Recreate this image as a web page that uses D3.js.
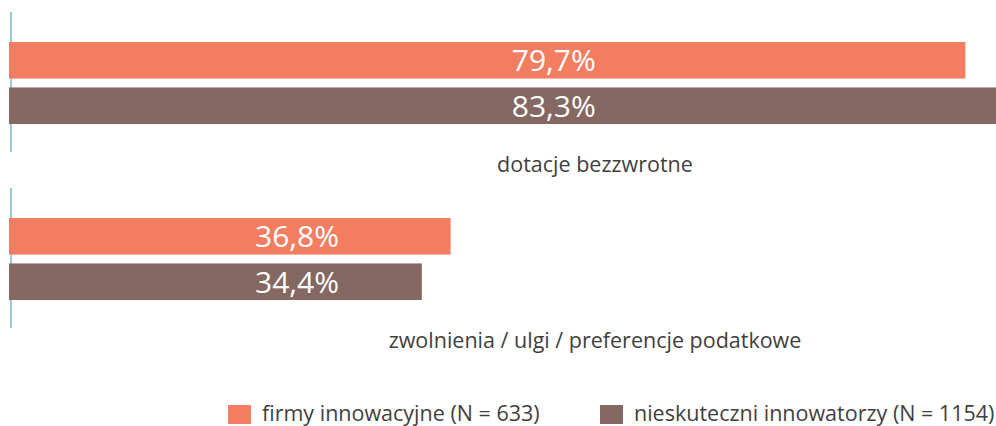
<!DOCTYPE html>
<html>
<head>
<meta charset="utf-8">
<script src="https://cdn.jsdelivr.net/npm/d3@7"></script>
<style>
  body { margin: 0; background: #fff; }
  svg { display: block; font-family: "Open Sans", sans-serif; }
</style>
</head>
<body>
<script>
// Chart data
var categories = ["dotacje bezzwrotne", "zwolnienia / ulgi / preferencje podatkowe"];
var series = ["firmy innowacyjne (N = 633)", "nieskuteczni innowatorzy (N = 1154)"];
var values = [
    [79.7, 83.3],
    [36.8, 34.4]
];
var valueLabels = [
    ["79,7%", "83,3%"],
    ["36,8%", "34,4%"]
];
// where (in % units) the value labels of each category sit
var labelAt = [45.4, 24.0];

var w = 996;
var h = 426;

var color = d3.scaleOrdinal()
    .domain(series)
    .range(["#F37D61", "#846861"]);

var x = d3.scaleLinear()
    .domain([0, 100])
    .range([9, 9 + 1200]);

// one band per category
var yCat = d3.scaleBand()
    .domain(categories)
    .range([12, 364])
    .padding(0);

// bars inside a category band
var ySer = d3.scaleBand()
    .domain(series)
    .range([30, 112])
    .paddingInner(0.195);

var svg = d3.select("body")
    .append("svg")
    .attr("width", w)
    .attr("height", h);

var groups = svg.selectAll("g.cat")
    .data(categories)
    .enter()
    .append("g")
    .attr("class", "cat")
    .attr("transform", function(d){ return "translate(0," + yCat(d) + ")"; });

// thin axis line
groups.append("line")
    .attr("x1", 11)
    .attr("x2", 11)
    .attr("y1", 0)
    .attr("y2", 140)
    .attr("stroke", "#94CBDD")
    .attr("stroke-width", 2);

groups.each(function(cat, i){
    var g = d3.select(this);
    var rows = series.map(function(s, j){
        return { s: s, v: values[i][j], label: valueLabels[i][j] };
    });

    g.selectAll("rect")
        .data(rows)
        .enter()
        .append("rect")
        .attr("x", x(0))
        .attr("y", function(d){ return ySer(d.s); })
        .attr("width", function(d){ return x(d.v) - x(0); })
        .attr("height", ySer.bandwidth())
        .attr("fill", function(d){ return color(d.s); });

    g.selectAll("text.val")
        .data(rows)
        .enter()
        .append("text")
        .attr("class", "val")
        .attr("x", x(labelAt[i]))
        .attr("y", function(d){ return ySer(d.s) + ySer.bandwidth() / 2; })
        .attr("dy", "0.36em")
        .attr("text-anchor", "middle")
        .attr("fill", "#fff")
        .style("font-size", "30px")
        .text(function(d){ return d.label; });

    g.append("text")
        .attr("x", 595)
        .attr("y", 160)
        .attr("text-anchor", "middle")
        .attr("fill", "#3f3f3f")
        .style("font-size", "21.5px")
        .text(cat);
});

// legend
var legendX = [228, 600];
var legend = svg.selectAll("g.legend")
    .data(series)
    .enter()
    .append("g")
    .attr("class", "legend")
    .attr("transform", function(d, i){ return "translate(" + legendX[i] + ",405)"; });

legend.append("rect")
    .attr("width", 23)
    .attr("height", 19)
    .attr("fill", function(d){ return color(d); });

legend.append("text")
    .attr("x", 34)
    .attr("y", 16)
    .attr("fill", "#3f3f3f")
    .style("font-size", "21.5px")
    .text(function(d){ return d; });
</script>
</body>
</html>
